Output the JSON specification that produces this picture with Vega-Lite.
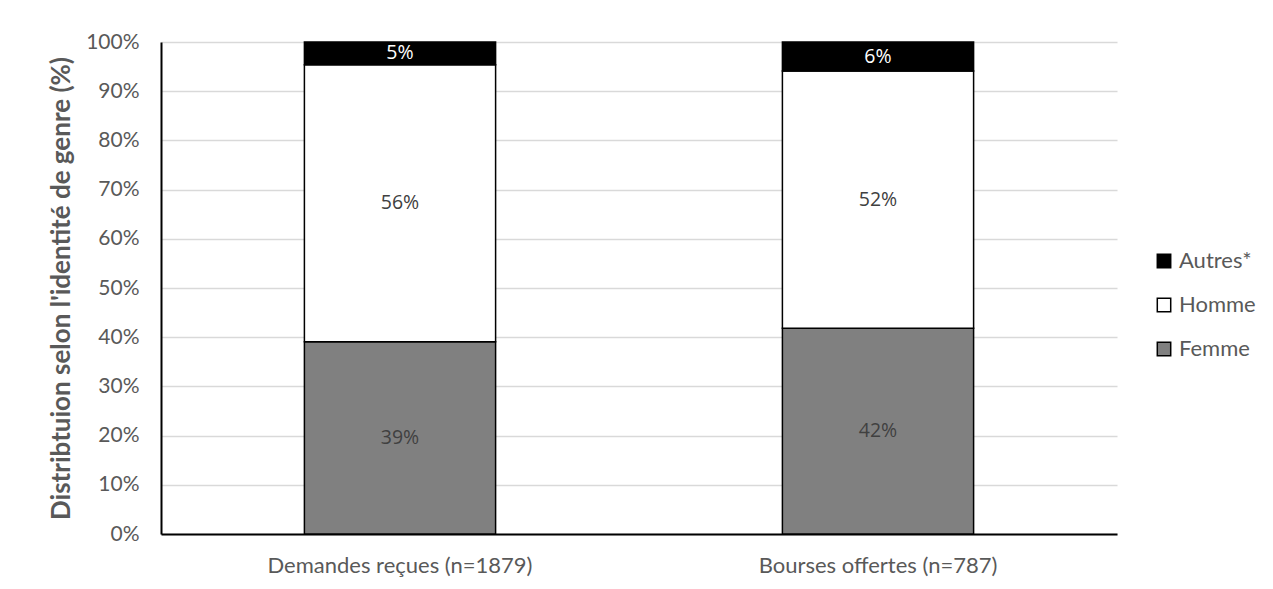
{
  "$schema": "https://vega.github.io/schema/vega-lite/v6.json",
  "width": 956,
  "height": 492,
  "autosize": {"type": "none"},
  "padding": {"left": 161, "top": 42, "right": 156, "bottom": 55},
  "background": "white",
  "config": {
    "view": {"stroke": null},
    "font": "Lato"
  },
  "data": {
    "values": [
      {"cat": "Demandes reçues (n=1879)", "genre": "Femme", "ord": 1, "value": 0.391},
      {"cat": "Demandes reçues (n=1879)", "genre": "Homme", "ord": 2, "value": 0.563},
      {"cat": "Demandes reçues (n=1879)", "genre": "Autres*", "ord": 3, "value": 0.046},
      {"cat": "Bourses offertes (n=787)", "genre": "Femme", "ord": 1, "value": 0.418},
      {"cat": "Bourses offertes (n=787)", "genre": "Homme", "ord": 2, "value": 0.523},
      {"cat": "Bourses offertes (n=787)", "genre": "Autres*", "ord": 3, "value": 0.059}
    ]
  },
  "transform": [
    {"stack": "value", "groupby": ["cat"], "sort": [{"field": "ord", "order": "ascending"}], "as": ["y0", "y1"]},
    {"calculate": "(datum.y0 + datum.y1) / 2", "as": "ymid"}
  ],
  "layer": [
    {
      "mark": {"type": "bar", "stroke": "black", "strokeWidth": 1.5},
      "encoding": {
        "x": {
          "field": "cat", "type": "nominal",
          "sort": ["Demandes reçues (n=1879)", "Bourses offertes (n=787)"],
          "scale": {"paddingInner": 0.6, "paddingOuter": 0.3},
          "axis": {
            "title": null, "labelAngle": 0, "labelFontSize": 22, "labelColor": "#595959",
            "labelPadding": 21, "labelLimit": 0, "ticks": false, "domainColor": "black", "domainWidth": 2
          }
        },
        "y": {
          "field": "y1", "type": "quantitative",
          "scale": {"domain": [0, 1]},
          "axis": {
            "title": "Distribtuion selon l'identité de genre (%)",
            "format": ".0%", "values": [0, 0.1, 0.2, 0.3, 0.4, 0.5, 0.6, 0.7, 0.8, 0.9, 1],
            "labelOverlap": false, "labelFontSize": 21, "labelColor": "#595959", "labelPadding": 22, "ticks": false,
            "domainColor": "black", "domainWidth": 2,
            "gridColor": "#d9d9d9", "gridWidth": 1.5,
            "titleFontSize": 26, "titleFontWeight": "bold", "titleColor": "#595959", "titlePadding": 11
          }
        },
        "y2": {"field": "y0"},
        "color": {
          "field": "genre", "type": "nominal",
          "scale": {"domain": ["Autres*", "Homme", "Femme"], "range": ["#000000", "#ffffff", "#808080"]},
          "legend": {
            "title": null, "orient": "none", "legendX": 992, "legendY": 208,
            "symbolType": "square", "symbolSize": 180, "symbolStrokeColor": "black", "symbolStrokeWidth": 1.5,
            "labelFontSize": 22, "labelColor": "#595959", "rowPadding": 22, "labelOffset": 4
          }
        }
      }
    },
    {
      "mark": {"type": "text", "font": "Open Sans", "fontSize": 19.5, "baseline": "middle"},
      "encoding": {
        "x": {"field": "cat", "type": "nominal", "sort": ["Demandes reçues (n=1879)", "Bourses offertes (n=787)"]},
        "y": {"field": "ymid", "type": "quantitative"},
        "text": {"field": "value", "type": "quantitative", "format": ".0%"},
        "color": {
          "condition": {"test": "datum.genre === 'Autres*'", "value": "white"},
          "value": "#404040"
        }
      }
    }
  ]
}
